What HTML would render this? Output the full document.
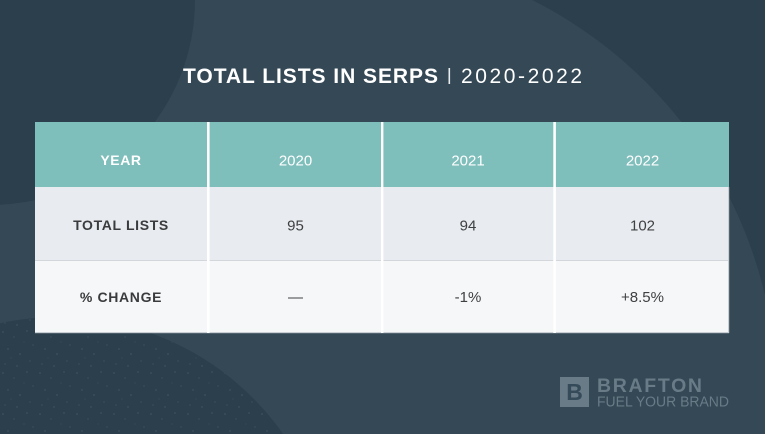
<!DOCTYPE html>
<html>
<head>
<meta charset="utf-8">
<style>
  html, body { margin: 0; padding: 0; width: 765px; height: 434px; overflow: hidden; background: #344855; position: relative; }
  svg { display: block; position: absolute; left: 0; top: 0; overflow: hidden; }
  .b { font-family: "Liberation Sans", Arial, sans-serif; font-weight: bold; }
  .r { font-family: "Liberation Sans", Arial, sans-serif; font-weight: normal; }
</style>
</head>
<body>
<svg width="765" height="434" viewBox="0 0 765 434" xmlns="http://www.w3.org/2000/svg">
  <defs>
    <pattern id="speck" width="37" height="41" patternUnits="userSpaceOnUse">
      <circle cx="3" cy="4" r="0.8" fill="#6d8291"/>
      <circle cx="14" cy="9" r="0.6" fill="#6d8291"/>
      <circle cx="27" cy="3" r="0.7" fill="#6d8291"/>
      <circle cx="33" cy="17" r="0.6" fill="#6d8291"/>
      <circle cx="8" cy="21" r="0.7" fill="#6d8291"/>
      <circle cx="20" cy="26" r="0.8" fill="#6d8291"/>
      <circle cx="30" cy="33" r="0.6" fill="#6d8291"/>
      <circle cx="5" cy="36" r="0.6" fill="#6d8291"/>
      <circle cx="17" cy="38" r="0.7" fill="#6d8291"/>
      <circle cx="24" cy="14" r="0.5" fill="#6d8291"/>
      <circle cx="11" cy="30" r="0.5" fill="#6d8291"/>
    </pattern>
  </defs>

  <!-- background -->
  <rect x="0" y="0" width="765" height="434" fill="#344855"/>
  <!-- top-right dark region (outside light circle) -->
  <path d="M532.3,0 L765,0 L765,295.2 A446,446 0 0 0 532.3,0 Z" fill="#2c3f4d"/>
  <!-- top-left dark region -->
  <path d="M0,0 L195,0 A205,205 0 0 1 0,204.8 Z" fill="#2c3f4d"/>
  <!-- bottom-left dark region -->
  <path d="M0,323.2 A275,275 0 0 1 283.1,434 L0,434 Z" fill="#2c3f4d"/>
  <path d="M0,323.2 A275,275 0 0 1 283.1,434 L0,434 Z" fill="url(#speck)" opacity="0.35"/>

  <!-- title -->
  <text x="183" y="83" class="b" font-size="21" fill="#ffffff" textLength="255" lengthAdjust="spacing">TOTAL LISTS IN SERPS</text>
  <rect x="448.5" y="68" width="1.6" height="16" fill="#e8ecef"/>
  <text x="461" y="83" class="r" font-size="21" fill="#ffffff" textLength="121" lengthAdjust="spacing">2020-2022</text>

  <!-- table -->
  <rect x="35" y="122" width="694" height="65" fill="#7ebebb"/>
  <rect x="35" y="187" width="694" height="73" fill="#e8ebef"/>
  <rect x="35" y="260" width="694" height="73" fill="#f6f7f9"/>
  <rect x="35" y="260" width="694" height="1" fill="#d3d7dc"/>
  <rect x="35" y="332" width="694" height="1.2" fill="#c9ced4"/>
  <rect x="728" y="187" width="1.2" height="146" fill="#c9ced4"/>
  <!-- vertical dividers -->
  <rect x="207" y="122" width="2.6" height="211" fill="#ffffff"/>
  <rect x="381" y="122" width="2.4" height="211" fill="#ffffff"/>
  <rect x="553.3" y="122" width="2.6" height="211" fill="#ffffff"/>

  <!-- header -->
  <text x="121" y="165" class="b" font-size="14" fill="#ffffff" text-anchor="middle" letter-spacing="0.6">YEAR</text>
  <text x="295.5" y="165.5" class="r" font-size="15" fill="#ffffff" text-anchor="middle">2020</text>
  <text x="468" y="165.5" class="r" font-size="15" fill="#ffffff" text-anchor="middle">2021</text>
  <text x="642.5" y="165.5" class="r" font-size="15" fill="#ffffff" text-anchor="middle">2022</text>

  <!-- row 2 -->
  <text x="121" y="230" class="b" font-size="14" fill="#3a3b3d" text-anchor="middle" letter-spacing="0.65">TOTAL LISTS</text>
  <text x="295.5" y="230.5" class="r" font-size="15" fill="#3f4042" text-anchor="middle">95</text>
  <text x="468" y="230.5" class="r" font-size="15" fill="#3f4042" text-anchor="middle">94</text>
  <text x="642.5" y="230.5" class="r" font-size="15" fill="#3f4042" text-anchor="middle">102</text>

  <!-- row 3 -->
  <text x="121" y="302" class="b" font-size="14" fill="#3a3b3d" text-anchor="middle" letter-spacing="0.65">% CHANGE</text>
  <text x="295.5" y="302" class="r" font-size="15" fill="#3f4042" text-anchor="middle">—</text>
  <text x="468" y="302" class="r" font-size="15" fill="#3f4042" text-anchor="middle">-1%</text>
  <text x="642.5" y="302" class="r" font-size="15" fill="#3f4042" text-anchor="middle">+8.5%</text>

  <!-- logo -->
  <rect x="560" y="377" width="29" height="30" fill="#687b87"/>
  <text x="574.5" y="400" class="b" font-size="23" fill="#364b59" text-anchor="middle">B</text>
  <text x="597" y="392" class="b" font-size="19.5" fill="#687b87" textLength="105" lengthAdjust="spacing">BRAFTON</text>
  <text x="597" y="406.5" class="r" font-size="14.5" fill="#687b87" textLength="132" lengthAdjust="spacingAndGlyphs">FUEL YOUR BRAND</text>
</svg>
</body>
</html>
